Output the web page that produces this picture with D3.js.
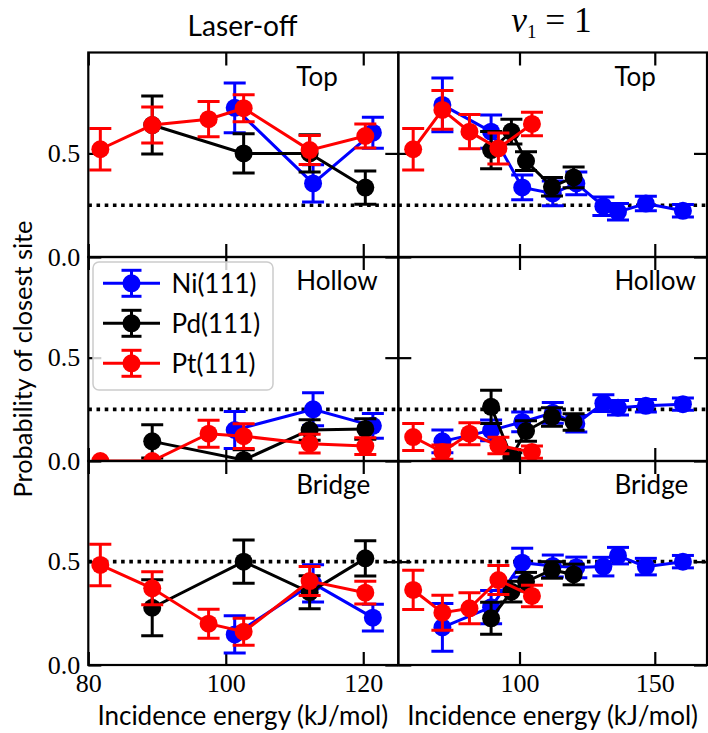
<!DOCTYPE html>
<html><head><meta charset="utf-8">
<script src="https://cdn.jsdelivr.net/npm/d3@7"></script>
<style>body{margin:0;background:#fff} svg{display:block}</style>
</head><body><svg id="c" width="708" height="733"></svg>
<script>
// ---------------- data ----------------
const metals = ["Ni(111)", "Pd(111)", "Pt(111)"];
const sites = ["Top", "Hollow", "Bridge"];
const columnTitles = ["Laser-off", "nu1"];
const randomLevel = [0.25, 0.25, 0.5];
const xTicksOff = [80, 100, 120];
const xTicksNu = [100, 150];
const yTicks = [0, 0.5];
const xLabel = "Incidence energy (kJ/mol)";
const yLabel = "Probability of closest site";

// incidence energies
const offNiE = [101.3, 112.7, 121.4];
const offPdE = [89.3, 102.6, 112.2, 120.3];
const offPtE = [81.75, 89.3, 97.5, 102.6, 112.2, 120.3];
const nuNiE = [71.5, 89.5, 101, 112.3, 121, 131, 136.4, 146.7, 160.4];
const nuPdE = [89.5, 97, 102.4, 112, 120];
const nuPtE = [60.7, 71.5, 81.5, 92.2, 104.6];

// Laser-off
const offTopNi = [0.72, 0.355, 0.60],            offTopNiErr = [0.12, 0.09, 0.075];
const offTopPd = [0.637, 0.50, 0.50, 0.335],     offTopPdErr = [0.14, 0.095, 0.09, 0.08];
const offTopPt = [0.52, 0.637, 0.665, 0.718, 0.516, 0.584], offTopPtErr = [0.10, 0.087, 0.085, 0.065, 0.07, 0.058];
const offHolNi = [0.15, 0.25, 0.17],             offHolNiErr = [0.09, 0.08, 0.06];
const offHolPd = [0.095, 0.005, 0.15, 0.155],    offHolPdErr = [0.08, 0.05, 0.05, 0.05];
const offHolPt = [0.0, 0.0, 0.132, 0.12, 0.084, 0.072], offHolPtErr = [0.0, 0.0, 0.065, 0.06, 0.045, 0.04];
const offBriNi = [0.148, 0.395, 0.229],          offBriNiErr = [0.09, 0.09, 0.065];
const offBriPd = [0.277, 0.50, 0.352, 0.516],    offBriPdErr = [0.135, 0.105, 0.08, 0.085];
const offBriPt = [0.484, 0.371, 0.20, 0.161, 0.406, 0.35], offBriPtErr = [0.10, 0.08, 0.07, 0.065, 0.07, 0.055];

// nu1 = 1
const nuTopNi = [0.734, 0.605, 0.336, 0.307, 0.355, 0.245, 0.218, 0.258, 0.223], nuTopNiErr = [0.13, 0.08, 0.06, 0.06, 0.055, 0.045, 0.04, 0.035, 0.03];
const nuTopPd = [0.516, 0.605, 0.463, 0.339, 0.384], nuTopPdErr = [0.09, 0.06, 0.045, 0.045, 0.05];
const nuTopPt = [0.52, 0.71, 0.605, 0.524, 0.642],   nuTopPtErr = [0.10, 0.093, 0.083, 0.075, 0.057];
const nuHolNi = [0.095, 0.148, 0.189, 0.233, 0.18, 0.28, 0.258, 0.267, 0.275], nuHolNiErr = [0.055, 0.05, 0.048, 0.05, 0.04, 0.04, 0.035, 0.03, 0.03];
const nuHolPd = [0.262, 0.02, 0.145, 0.213, 0.189],  nuHolPdErr = [0.08, 0.02, 0.05, 0.045, 0.04];
const nuHolPt = [0.116, 0.043, 0.132, 0.075, 0.043], nuHolPtErr = [0.065, 0.035, 0.053, 0.04, 0.03];
const nuBriNi = [0.182, 0.28, 0.495, 0.479, 0.472, 0.476, 0.529, 0.476, 0.50], nuBriNiErr = [0.115, 0.08, 0.07, 0.053, 0.05, 0.045, 0.04, 0.04, 0.03];
const nuBriPd = [0.226, 0.355, 0.403, 0.46, 0.438],  nuBriPdErr = [0.077, 0.05, 0.045, 0.04, 0.05];
const nuBriPt = [0.363, 0.253, 0.274, 0.411, 0.334], nuBriPtErr = [0.095, 0.085, 0.075, 0.07, 0.052];

// ---------------- assemble ----------------
const energies = [[offNiE, offPdE, offPtE], [nuNiE, nuPdE, nuPtE]];
const values = [
  [[offTopNi, offTopPd, offTopPt], [offHolNi, offHolPd, offHolPt], [offBriNi, offBriPd, offBriPt]],
  [[nuTopNi, nuTopPd, nuTopPt], [nuHolNi, nuHolPd, nuHolPt], [nuBriNi, nuBriPd, nuBriPt]]
];
const errors = [
  [[offTopNiErr, offTopPdErr, offTopPtErr], [offHolNiErr, offHolPdErr, offHolPtErr], [offBriNiErr, offBriPdErr, offBriPtErr]],
  [[nuTopNiErr, nuTopPdErr, nuTopPtErr], [nuHolNiErr, nuHolPdErr, nuHolPtErr], [nuBriNiErr, nuBriPdErr, nuBriPtErr]]
];

// ---------------- layout / style ----------------
const colors = ["#0000ff", "#000000", "#ff0000"];
const SANS = "Lato, 'DejaVu Sans', sans-serif";
const SERIF = "'Liberation Serif', 'DejaVu Serif', serif";
const colX = [[88.3, 398.3], [398.3, 707]];
const rowY = [[52.5, 257], [257, 461], [461, 665]];
const xDomains = [[80, 125.1], [55.2, 169.3]];
const yMax = 0.987;
const TICK = 13, LW = 3, R = 9, CAP = 11;

const svg = d3.select("#c");
svg.append("rect").attr("width", 708).attr("height", 733).attr("fill", "#fff");

function fit(sel, w) {
  const l = sel.node().getComputedTextLength();
  const fs = parseFloat(sel.attr("font-size"));
  sel.attr("font-size", fs * w / l);
  return fs * w / l;
}

const defs = svg.append("defs");

for (let c = 0; c < 2; c++) {
  const x = d3.scaleLinear().domain(xDomains[c]).range(colX[c]);
  for (let r = 0; r < 3; r++) {
    const y = d3.scaleLinear().domain([0, yMax]).range([rowY[r][1], rowY[r][0]]);
    const g = svg.append("g");
    const cid = `clip${c}${r}`;
    defs.append("clipPath").attr("id", cid).append("rect")
      .attr("x", colX[c][0]).attr("y", rowY[r][0])
      .attr("width", colX[c][1] - colX[c][0]).attr("height", rowY[r][1] - rowY[r][0]);

    // axes (inward ticks on all four sides)
    const xt = c === 0 ? xTicksOff : xTicksNu;
    const axB = g.append("g").attr("transform", `translate(0,${rowY[r][1]})`)
      .call(d3.axisBottom(x).tickValues(xt).tickSizeInner(-TICK).tickSizeOuter(0).tickPadding(9)
        .tickFormat(r === 2 ? d3.format("d") : () => ""));
    const axT = g.append("g").attr("transform", `translate(0,${rowY[r][0]})`)
      .call(d3.axisTop(x).tickValues(xt).tickSizeInner(-TICK).tickSizeOuter(0).tickFormat(() => ""));
    const axL = g.append("g").attr("transform", `translate(${colX[c][0]},0)`)
      .call(d3.axisLeft(y).tickValues(yTicks).tickSizeInner(-TICK).tickSizeOuter(0).tickPadding(8)
        .tickFormat(c === 0 ? d3.format(".1f") : () => ""));
    const axR = g.append("g").attr("transform", `translate(${colX[c][1]},0)`)
      .call(d3.axisRight(y).tickValues(yTicks).tickSizeInner(-TICK).tickSizeOuter(0).tickFormat(() => ""));
    [axB, axT, axL, axR].forEach(a => {
      a.select(".domain").remove();
      a.selectAll("line").attr("stroke", "#000").attr("stroke-width", 2.2);
      a.selectAll("text").attr("font-family", SERIF).attr("font-size", 26).attr("fill", "#000");
    });

    const body = g.append("g").attr("clip-path", `url(#${cid})`);
    // random-distribution reference
    body.append("line").attr("x1", colX[c][0]).attr("x2", colX[c][1])
      .attr("y1", y(randomLevel[r])).attr("y2", y(randomLevel[r]))
      .attr("stroke", "#000").attr("stroke-width", 3.6).attr("stroke-dasharray", "3.6,4.6");

    for (let m = 0; m < 3; m++) {
      const pts = energies[c][m].map((e, i) => ({e, v: values[c][r][m][i], s: errors[c][r][m][i]}));
      const sg = body.append("g");
      sg.append("path").datum(pts)
        .attr("d", d3.line().x(d => x(d.e)).y(d => y(d.v)))
        .attr("fill", "none").attr("stroke", colors[m]).attr("stroke-width", LW);
      const eb = sg.selectAll("g.eb").data(pts.filter(d => d.s > 0)).join("g");
      eb.append("line").attr("x1", d => x(d.e)).attr("x2", d => x(d.e))
        .attr("y1", d => y(d.v - d.s)).attr("y2", d => y(d.v + d.s));
      eb.append("line").attr("x1", d => x(d.e) - CAP).attr("x2", d => x(d.e) + CAP)
        .attr("y1", d => y(d.v - d.s)).attr("y2", d => y(d.v - d.s));
      eb.append("line").attr("x1", d => x(d.e) - CAP).attr("x2", d => x(d.e) + CAP)
        .attr("y1", d => y(d.v + d.s)).attr("y2", d => y(d.v + d.s));
      eb.selectAll("line").attr("stroke", colors[m]).attr("stroke-width", LW);
      sg.selectAll("circle").data(pts).join("circle")
        .attr("cx", d => x(d.e)).attr("cy", d => y(d.v)).attr("r", R).attr("fill", colors[m]);
    }

    // frame
    g.append("rect").attr("x", colX[c][0]).attr("y", rowY[r][0])
      .attr("width", colX[c][1] - colX[c][0]).attr("height", rowY[r][1] - rowY[r][0])
      .attr("fill", "none").attr("stroke", "#000").attr("stroke-width", 2.2);

    // site label
    const frac = c === 0 ? 0.671 : 0.70;
    g.append("text").attr("x", colX[c][0] + frac * (colX[c][1] - colX[c][0]))
      .attr("y", rowY[r][0] + 33).attr("font-family", SANS).attr("font-size", 26)
      .attr("class", "site").text(sites[r]);
  }
}

// axis labels
const xl = [];
for (let c = 0; c < 2; c++) {
  const t = svg.append("text").attr("x", (colX[c][0] + colX[c][1]) / 2 + (c === 0 ? -0.5 : 0)).attr("y", 725)
    .attr("text-anchor", "middle").attr("font-family", SANS).attr("font-size", 26).text(xLabel);
  xl.push(fit(t, 291));
}
const yl = svg.append("text").attr("transform", "translate(32,359) rotate(-90)")
  .attr("text-anchor", "middle").attr("font-family", SANS).attr("font-size", 26).text(yLabel);
fit(yl, 277);
svg.selectAll("text.site").attr("font-size", xl[0]);

// column titles
const t0 = svg.append("text").attr("x", 242.5).attr("y", 36).attr("text-anchor", "middle")
  .attr("font-family", SANS).attr("font-size", 28).text(columnTitles[0]);
fit(t0, 110);
const t1 = svg.append("text").attr("x", 551.5).attr("y", 32).attr("text-anchor", "middle")
  .attr("font-family", SERIF).attr("font-size", 28);
t1.append("tspan").attr("font-style", "italic").text("ν");
t1.append("tspan").attr("font-size", 19).attr("dy", 6).text("1");
t1.append("tspan").attr("dy", -6).text(" = 1");
fit(t1, 83);

// legend (in Laser-off / Hollow panel)
const lg = svg.append("g");
lg.append("rect").attr("x", 93).attr("y", 262).attr("width", 180).attr("height", 128).attr("rx", 6)
  .attr("fill", "#fff").attr("fill-opacity", 0.8).attr("stroke", "#cccccc").attr("stroke-width", 1.5);
metals.forEach((name, m) => {
  const cy = 283.3 + 40 * m, cx = 131.5;
  const e = lg.append("g").attr("stroke", colors[m]).attr("stroke-width", LW);
  e.append("line").attr("x1", 103).attr("x2", 160).attr("y1", cy).attr("y2", cy);
  e.append("line").attr("x1", cx).attr("x2", cx).attr("y1", cy - 13).attr("y2", cy + 13);
  e.append("line").attr("x1", cx - 10).attr("x2", cx + 10).attr("y1", cy - 13).attr("y2", cy - 13);
  e.append("line").attr("x1", cx - 10).attr("x2", cx + 10).attr("y1", cy + 13).attr("y2", cy + 13);
  lg.append("circle").attr("cx", cx).attr("cy", cy).attr("r", R).attr("fill", colors[m]);
  lg.append("text").attr("x", 171.5).attr("y", cy).attr("dy", "0.36em")
    .attr("font-family", SANS).attr("font-size", xl[0]).text(name);
});
</script></body></html>
